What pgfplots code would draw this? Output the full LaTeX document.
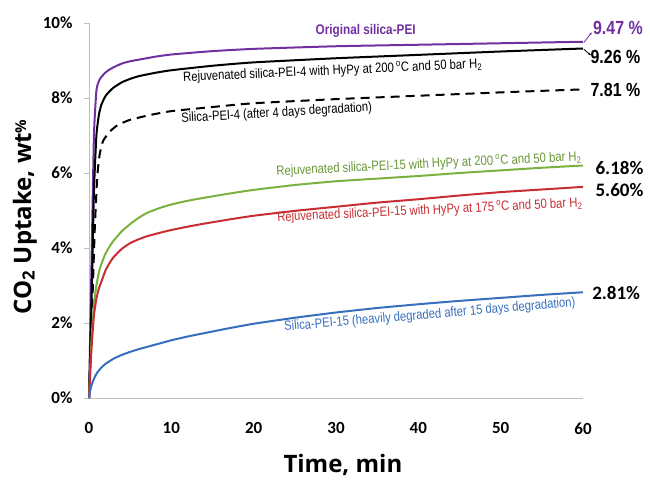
\documentclass[border=0pt]{standalone}
\usepackage{fontspec}
\setmainfont{Liberation Sans}
\newfontfamily\tickfont{Carlito}
\newfontfamily\labfont{Open Sans}
\newfontfamily\narrow[FakeStretch=0.84]{Liberation Sans}
\usepackage{pgfplots}
\pgfplotsset{compat=1.18}
\usetikzlibrary{arrows.meta}

\definecolor{cpurple}{RGB}{112,48,160}
\definecolor{cgreen}{RGB}{122,178,64}
\definecolor{cred}{RGB}{200,45,50}
\definecolor{cblue}{RGB}{55,110,190}
\definecolor{axgray}{RGB}{190,190,190}

\newcommand{\degC}{\,\textsuperscript{o}C}
\newcommand{\annot}{\narrow\fontsize{13.4}{14}\selectfont}

\begin{document}
\begin{tikzpicture}
\path[use as bounding box] (0,0) rectangle (650pt,485pt);
\begin{axis}[
  at={(89pt,87pt)}, anchor=south west,
  width=494pt, height=375pt, scale only axis,
  xmin=0, xmax=60, ymin=0, ymax=10,
  axis x line*=bottom, axis y line*=left,
  axis line style={axgray, line width=1pt},
  xtick={0,10,...,60},
  xticklabels={0,10,20,30,40,50,60},
  ytick={0,2,...,10},
  yticklabels={0\%,2\%,4\%,6\%,8\%,10\%},
  tick align=outside,
  ytick style={axgray, line width=0.8pt},
  major tick length=5pt,
  xtick style={draw=none},
  ticklabel style={font=\tickfont\bfseries\fontsize{17}{17}\selectfont},
  xticklabel style={yshift=-16pt},
  yticklabel style={xshift=-8pt},
  xlabel={Time, min},
  xlabel style={at={(rel axis cs:0.514,-0.179)}, anchor=center,
    font=\labfont\bfseries\fontsize{24}{24}\selectfont},
  ylabel={CO\textsubscript{2} Uptake, wt\raisebox{5pt}{\fontsize{15}{15}\selectfont\%}},
  ylabel style={at={(rel axis cs:-0.130,0.483)}, anchor=center, rotate=0,
    font=\labfont\bfseries\fontsize{24}{24}\selectfont},
  clip=false,
  every axis plot/.append style={line width=2pt, smooth, tension=0.3},
]
% Original silica-PEI
\addplot[cpurple] coordinates {(0,0) (0.3,3.5) (0.6,7.0) (0.9,8.2) (1.2,8.45) (1.5,8.56) (2,8.68)
  (2.5,8.76) (3,8.82) (4,8.92) (5,8.98) (6,9.02) (8,9.1) (10,9.16) (15,9.25) (20,9.31) (30,9.38) (40,9.42) (50,9.46) (60,9.5)};
% Rejuvenated silica-PEI-4
\addplot[black] coordinates {(0,0) (0.3,2.5) (0.6,5.5) (0.9,7.0) (1.2,7.55) (1.5,7.82) (2,8.05)
  (2.5,8.18) (3,8.28) (4,8.42) (5,8.51) (6,8.58) (8,8.67) (10,8.74) (15,8.86) (20,8.95) (30,9.06) (40,9.15) (50,9.24) (60,9.32)};
% Silica-PEI-4 degraded
\addplot[black, dash pattern=on 9pt off 6pt] coordinates {(0,0) (0.4,2.5) (0.7,4.5) (1,5.9) (1.3,6.5)
  (1.7,6.85) (2.5,7.1) (3.5,7.28) (5,7.42) (7.5,7.55) (10,7.65) (15,7.76) (20,7.86) (30,7.97) (40,8.06) (50,8.15) (60,8.23)};
% Rejuvenated silica-PEI-15, 200 C
\addplot[cgreen] coordinates {(0,0) (0.3,1.5) (0.6,2.5) (0.9,3.0) (1.2,3.35) (1.5,3.57) (2,3.85)
  (2.5,4.04) (3,4.2) (4,4.45) (5,4.64) (6,4.8) (7,4.93) (8.5,5.06) (10,5.16) (12,5.26) (14,5.34) (17,5.45) (20,5.55)
  (25,5.68) (30,5.78) (35,5.85) (40,5.92) (45,6.0) (50,6.07) (55,6.14) (60,6.2)};
% Rejuvenated silica-PEI-15, 175 C
\addplot[cred] coordinates {(0,0) (0.3,1.3) (0.6,2.2) (0.9,2.65) (1.2,2.92) (1.5,3.1) (2,3.4)
  (2.5,3.6) (3,3.76) (4,3.98) (5,4.13) (6,4.23) (7,4.31) (8.5,4.4) (10,4.48) (12,4.57) (14,4.65) (17,4.76) (20,4.86)
  (25,4.99) (30,5.1) (35,5.21) (40,5.3) (45,5.4) (50,5.49) (55,5.56) (60,5.63)};
% Silica-PEI-15 heavily degraded
\addplot[cblue] coordinates {(0,0) (0.1,0.15) (0.25,0.3) (0.5,0.46) (0.75,0.58) (1,0.68) (1.5,0.81)
  (2,0.91) (3,1.05) (4,1.15) (5,1.23) (6,1.3) (7,1.36) (8.5,1.45) (10,1.54) (12,1.64) (14,1.73) (17,1.86) (20,1.98)
  (25,2.14) (30,2.28) (35,2.4) (40,2.5) (45,2.59) (50,2.67) (55,2.75) (60,2.82)};

% curve labels
\node[cpurple, font=\narrow\bfseries\fontsize{14}{14}\selectfont] at (axis cs:33.6,9.8) {Original silica-PEI};
\node[black, rotate=2.6, font=\annot] at (axis cs:29.6,8.72)
  {Rejuvenated silica-PEI-4 with HyPy at 200\degC{} and 50 bar H\textsubscript{2}};
\node[black, rotate=3.3, font=\annot] at (axis cs:22.8,7.59)
  {Silica-PEI-4 (after 4 days degradation)};
\node[cgreen!85!black, rotate=2.8, font=\annot] at (axis cs:41.3,6.23)
  {Rejuvenated silica-PEI-15 with HyPy at 200\degC{} and 50 bar H\textsubscript{2}};
\node[cred, rotate=2.8, font=\annot] at (axis cs:41.4,5.0)
  {Rejuvenated silica-PEI-15 with HyPy at 175\degC{} and 50 bar H\textsubscript{2}};
\node[cblue, rotate=4.8, font=\annot] at (axis cs:41.4,2.21)
  {Silica-PEI-15 (heavily degraded after 15 days degradation)};

% end values
\draw[cpurple, line width=0.8pt, -{Latex[length=3pt]}] (axis cs:60.1,9.48) -- (axis cs:61.1,9.76);
\draw[black, line width=0.8pt, -{Latex[length=3pt]}] (axis cs:60.1,9.3) -- (axis cs:61,9.13);
\node[cpurple, anchor=west, inner sep=0pt, font=\narrow\bfseries\fontsize{19}{19}\selectfont] at (axis cs:61.2,9.87) {9.47 \%};
\node[black, anchor=west, inner sep=0pt, font=\narrow\bfseries\fontsize{19}{19}\selectfont] at (axis cs:60.9,9.09) {9.26 \%};
\node[black, anchor=west, inner sep=0pt, font=\narrow\bfseries\fontsize{19}{19}\selectfont] at (axis cs:60.9,8.21) {7.81 \%};
\node[black, anchor=west, inner sep=0pt, font=\tickfont\bfseries\fontsize{19}{19}\selectfont] at (axis cs:61.5,6.13) {6.18\%};
\node[black, anchor=west, inner sep=0pt, font=\tickfont\bfseries\fontsize{19}{19}\selectfont] at (axis cs:61.5,5.55) {5.60\%};
\node[black, anchor=west, inner sep=0pt, font=\tickfont\bfseries\fontsize{19}{19}\selectfont] at (axis cs:61.1,2.80) {2.81\%};
\end{axis}
\end{tikzpicture}
\end{document}
